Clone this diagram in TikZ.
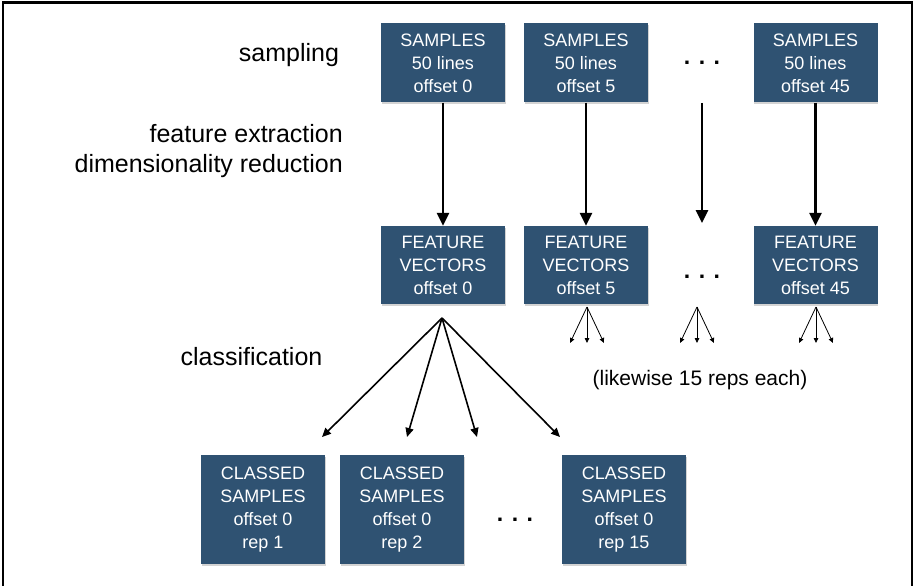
\documentclass[tikz,border=0pt]{standalone}
\usepackage{fontspec}
\setmainfont{Liberation Sans}
\usetikzlibrary{arrows.meta}
\usetikzlibrary{shadows}

\definecolor{boxblue}{HTML}{2F5272}

\begin{document}
\begin{tikzpicture}[
		x=1pt, y=-1pt,
		block/.style={
			fill=boxblue,
			rectangle,
			draw=none,
			text=white,
			minimum width=124pt,
			align=center,
			inner sep=0pt,
			font=\fontsize{18}{23}\selectfont,
			drop shadow={shadow xshift=0.6pt, shadow yshift=-1.6pt, opacity=0.35}},
		steplabel/.style={
			inner sep=0pt,
			font=\fontsize{25}{30}\selectfont},
		dots/.style={
			inner sep=0pt,
			font=\bfseries\fontsize{23}{23}\selectfont},
		bigarrow/.style={-{Triangle[length=13pt,width=12pt]}, line width=2.6pt},
		fanarrow/.style={-{Triangle[length=9pt,width=8pt]}, line width=1.6pt},
		smallarrow/.style={-{Triangle[length=5pt,width=4.5pt]}, line width=0.8pt},
		]

		\useasboundingbox (0,0) rectangle (914,586);

		%Frame
		\draw[line width=2.5pt] (3,600) -- (3,2.5) -- (912,2.5) -- (912,600);

		%Samples and feature vectors
		\foreach \off/\x in {0/443, 5/586, 45/815.5}{
			\node (samp\off)[block, minimum height=79pt] at (\x,63) {SAMPLES\\50 lines\\offset \off};
			\node (feat\off)[block, minimum height=78pt] at (\x,265) {FEATURE\\VECTORS\\offset \off};
			\draw[bigarrow] (samp\off) -- (feat\off);
		}

		%Gap between offsets
		\node (dotstop)[dots] at (702,63) {. . .};
		\node (dotsmid)[dots] at (702,277) {. . .};
		\coordinate (gaptop) at (702,103);
		\coordinate (gapbot) at (702,223);
		\draw[bigarrow] (gaptop) -- (gapbot);

		%Left labels
		\node (sampling)[steplabel, anchor=base] at (289,62) {sampling};
		\node (featext)[steplabel, anchor=base east, align=right] at (343,172) {feature extraction\\dimensionality reduction};
		\node (classif)[steplabel, anchor=base] at (251.5,365) {classification};

		%Classification of offset 0
		\coordinate (fan0) at (442,318);
		\foreach \i/\x in {1/322, 2/407, 3/477, 4/560}{
			\coordinate (rep\i) at (\x,437);
			\draw[fanarrow] (fan0) -- (rep\i);
		}

		%Other offsets
		\foreach \i/\x in {5/587, 6/697, 45/816}{
			\coordinate (sub\i) at (\x,307);
			\foreach \j/\dx in {a/-17, b/0, c/17}{
				\coordinate (sub\i\j) at (\x+\dx,343);
				\draw[smallarrow] (sub\i) -- (sub\i\j);
			}
		}
		\node (likewise)[anchor=base, inner sep=0pt, font=\fontsize{21}{25}\selectfont] at (700,385) {(likewise 15 reps each)};

		%Classed samples
		\foreach \rep/\x in {1/263, 2/402, 15/624}{
			\node (cls\rep)[block, minimum height=109pt] at (\x,509.5) {CLASSED\\SAMPLES\\offset 0\\rep \rep};
		}
		\node (dotsbot)[dots] at (515,520) {. . .};

\end{tikzpicture}
\end{document}
